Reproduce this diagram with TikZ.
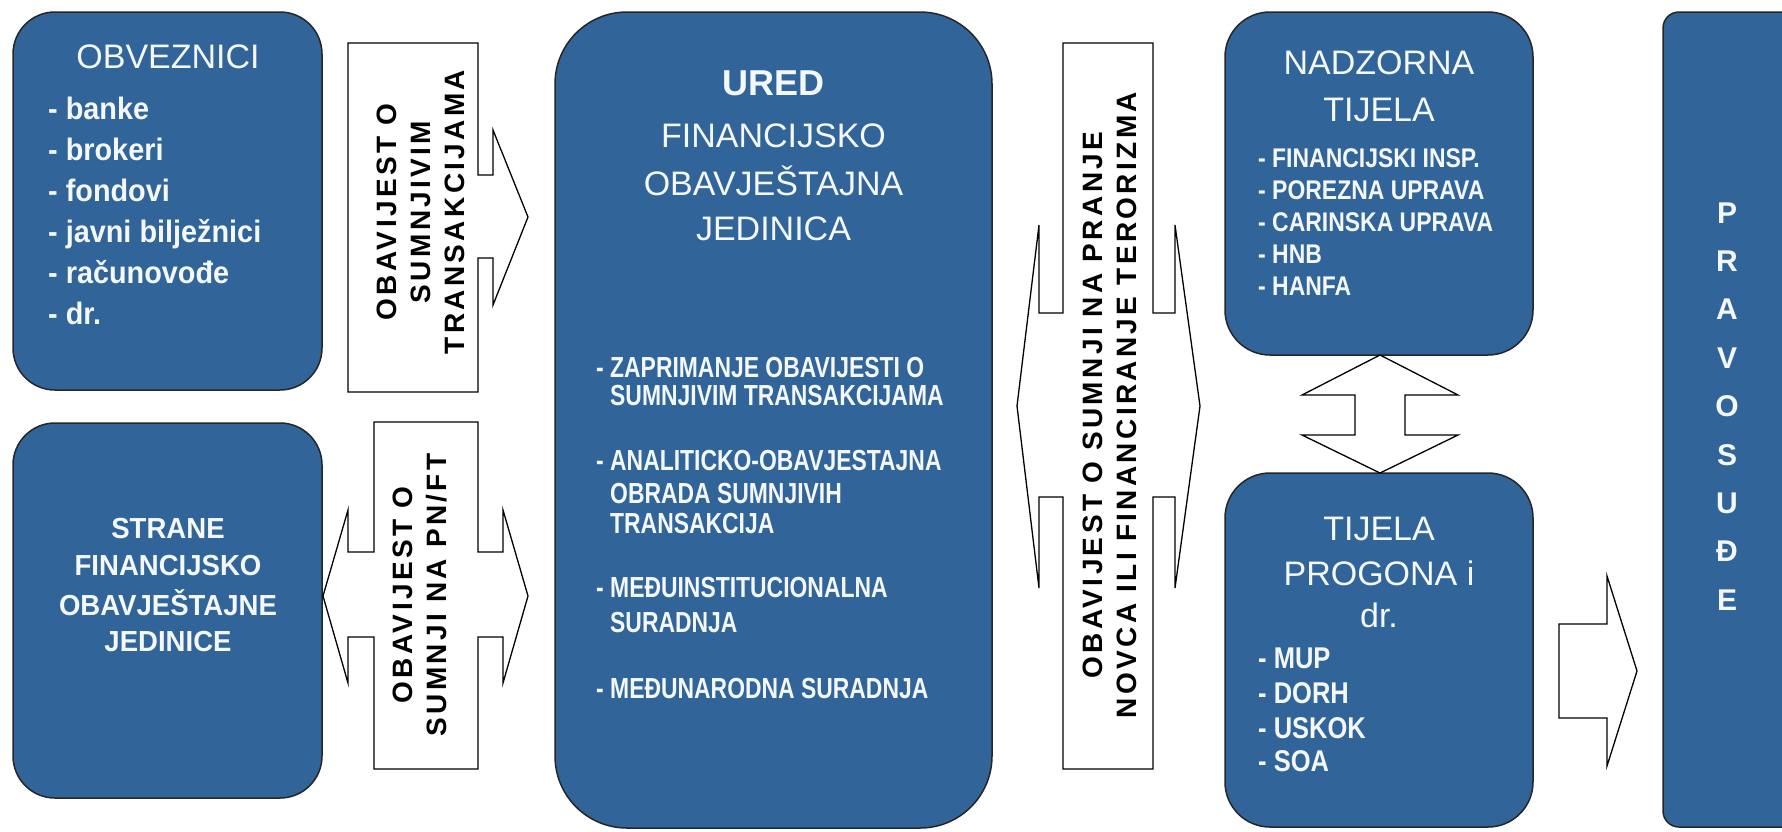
\documentclass[tikz,border=0pt]{standalone}
\usepackage{fontspec}
\setmainfont{Liberation Sans}
\newfontfamily\narrowA[FakeStretch=0.85]{Liberation Sans}
\newfontfamily\narrowD[FakeStretch=0.93]{Liberation Sans}
\newfontfamily\narrowB[FakeStretch=0.79]{Liberation Sans}
\newfontfamily\narrowC[FakeStretch=0.95]{Liberation Sans}
\newfontfamily\spacedfont[LetterSpace=12]{Liberation Sans}
\definecolor{boxblue}{RGB}{49,100,152}
\definecolor{txtwhite}{RGB}{244,248,252}
\begin{document}
\begin{tikzpicture}[x=1pt,y=-1pt,
  box/.style={draw=black!85, line width=1.5pt, fill=boxblue, inner sep=0pt, outer sep=0pt},
  arr/.style={draw=black, line width=1.3pt, fill=white, line join=miter},
  hd/.style={text=txtwhite, inner sep=0pt, anchor=base, font=\fontsize{34}{40}\selectfont},
  hdb/.style={text=txtwhite, inner sep=0pt, anchor=base, font=\bfseries\fontsize{36}{42}\selectfont},
  lobv/.style={text=txtwhite, inner sep=0pt, anchor=base west, font=\narrowD\bfseries\fontsize{31}{36}\selectfont},
  lstr/.style={text=txtwhite, inner sep=0pt, anchor=base, font=\narrowC\bfseries\fontsize{29}{34}\selectfont},
  lured/.style={text=txtwhite, inner sep=0pt, anchor=base west, font=\narrowB\bfseries\fontsize{29}{34}\selectfont},
  lnad/.style={text=txtwhite, inner sep=0pt, anchor=base west, font=\narrowA\bfseries\fontsize{27}{32}\selectfont},
  ltij/.style={text=txtwhite, inner sep=0pt, anchor=base west, font=\narrowA\bfseries\fontsize{30}{35}\selectfont},
  lprav/.style={text=txtwhite, inner sep=0pt, anchor=base, font=\bfseries\fontsize{30}{34}\selectfont},
  atxt/.style={text=black, inner sep=0pt, rotate=90, align=center, font=\spacedfont\bfseries\fontsize{28}{34}\selectfont}
]
\fill[white] (0,0) rectangle (1782,831);
\useasboundingbox (0,0) rectangle (1782,831);
\clip (0,0) rectangle (1782,831);

% ---------- boxes ----------
\node[box, minimum width=309pt, minimum height=378pt, rounded corners=42pt] (obv) at (167.5,201) {};
\node[box, minimum width=309pt, minimum height=375pt, rounded corners=42pt] (str) at (167.5,610.5) {};
\node[box, minimum width=437pt, minimum height=816pt, rounded corners=72pt] (ured) at (773.5,420) {};
\node[box, minimum width=308pt, minimum height=343pt, rounded corners=45pt] (nad) at (1379,183.5) {};
\node[box, minimum width=308pt, minimum height=354pt, rounded corners=45pt] (tij) at (1379,650) {};
\node[box, minimum width=137pt, minimum height=815pt, rounded corners=16pt] (prav) at (1731.5,419.5) {};

% ---------- OBVEZNICI ----------
\node[hd] (obvh) at (168,68) {OBVEZNICI};
\foreach \t/\y [count=\i] in {banke/119, brokeri/160, fondovi/201, javni bilježnici/242, računovođe/283, dr./324}
  \node[lobv] (obvl\i) at (48,\y) {- \t};

% ---------- STRANE ----------
\foreach \t/\y [count=\i] in {STRANE/538.5, FINANCIJSKO/575.5, OBAVJEŠTAJNE/615.5, JEDINICE/651.5}
  \node[lstr] (strl\i) at (168,\y) {\t};

% ---------- URED ----------
\node[hdb] (uredh) at (773.5,95) {URED};
\node[hd] (uredh2) at (773.5,147) {FINANCIJSKO};
\node[hd] (uredh3) at (773.5,195) {OBAVJEŠTAJNA};
\node[hd] (uredh4) at (773.5,240) {JEDINICA};
\node[lured] (ul1) at (596,377.5) {- ZAPRIMANJE OBAVIJESTI O};
\node[lured] (ul2) at (596,405.5) {\phantom{- }SUMNJIVIM TRANSAKCIJAMA};
\node[lured] (ul3) at (596,470.5) {- ANALITICKO-OBAVJESTAJNA};
\node[lured] (ul4) at (596,503.5) {\phantom{- }OBRADA SUMNJIVIH};
\node[lured] (ul5) at (596,533.5) {\phantom{- }TRANSAKCIJA};
\node[lured] (ul6) at (596,597.5) {- MEĐUINSTITUCIONALNA};
\node[lured] (ul7) at (596,632.5) {\phantom{- }SURADNJA};
\node[lured] (ul8) at (596,698.5) {- MEĐUNARODNA SURADNJA};

% ---------- NADZORNA TIJELA ----------
\node[hd] (nadh1) at (1379,74) {NADZORNA};
\node[hd] (nadh2) at (1379,121) {TIJELA};
\foreach \t/\y [count=\i] in {FINANCIJSKI INSP./167, POREZNA UPRAVA/199, CARINSKA UPRAVA/231, HNB/263, HANFA/295}
  \node[lnad] (nadl\i) at (1258,\y) {- \t};

% ---------- TIJELA PROGONA ----------
\node[hd] (tijh1) at (1379,540) {TIJELA};
\node[hd] (tijh2) at (1379,585) {PROGONA i};
\node[hd] (tijh3) at (1379,627) {dr.};
\foreach \t/\y [count=\i] in {MUP/668, DORH/703, USKOK/738, SOA/771}
  \node[ltij] (tijl\i) at (1258,\y) {- \t};

% ---------- PRAVOSUDE ----------
\foreach \t [count=\i] in {P,R,A,V,O,S,U,Đ,E}
  \node[lprav] (pl\i) at (1727,{223+(\i-1)*48.4}) {\t};

% ---------- block arrows ----------
\draw[arr] (348,43) -- (478,43) -- (478,175) -- (493,175) -- (493,130) -- (528,217)
  -- (493,305) -- (493,258) -- (478,258) -- (478,392) -- (348,392) -- cycle;
\node[atxt] (a1) at (421,212) {OBAVIJEST O\\SUMNJIVIM\\TRANSAKCIJAMA};

\draw[arr] (374,422) -- (478,422) -- (478,552) -- (503,552) -- (503,510) -- (528,596)
  -- (503,683) -- (503,637) -- (478,637) -- (478,769) -- (374,769) -- (374,637)
  -- (348,637) -- (348,683) -- (323,596) -- (348,510) -- (348,552) -- (374,552) -- cycle;
\node[atxt] (a2) at (420,595) {OBAVIJEST O\\SUMNJI NA PN/FT};

\draw[arr] (1063,43) -- (1153,43) -- (1153,313) -- (1175,313) -- (1175,225) -- (1200,406)
  -- (1175,588) -- (1175,497) -- (1153,497) -- (1153,769) -- (1063,769) -- (1063,497)
  -- (1039,497) -- (1039,588) -- (1017,406) -- (1039,225) -- (1039,313) -- (1063,313) -- cycle;
\node[atxt] (a3) at (1110,405) {OBAVIJEST O SUMNJI NA PRANJE\\NOVCA ILI FINANCIRANJE TERORIZMA};

\draw[arr] (1380,355) -- (1458,395) -- (1405,395) -- (1405,435) -- (1458,435) -- (1380,473)
  -- (1302,435) -- (1355,435) -- (1355,395) -- (1302,395) -- cycle;

\draw[arr] (1559,624) -- (1607,624) -- (1607,576) -- (1637,671) -- (1607,766)
  -- (1607,718) -- (1559,718) -- cycle;
\end{tikzpicture}
\end{document}
